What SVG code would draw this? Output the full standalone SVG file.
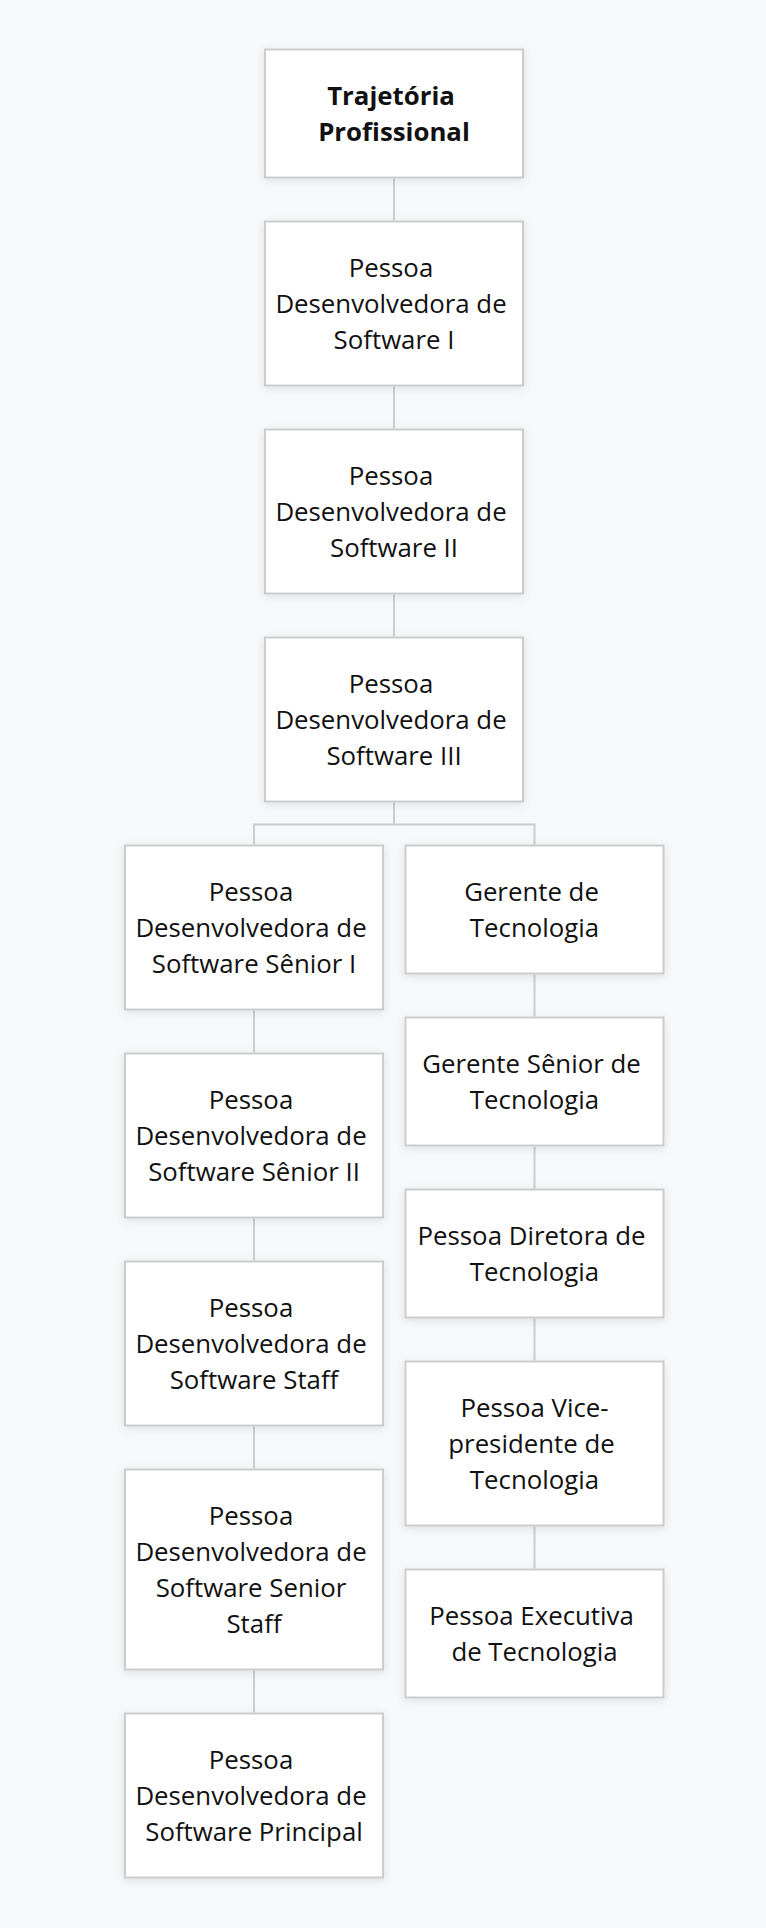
<svg xmlns="http://www.w3.org/2000/svg" width="766" height="1928" viewBox="0 0 766 1928">
<style>
.bg{fill:#f7f8fa}
.box{fill:#ffffff;stroke:#cccccc;stroke-width:2;filter:url(#sh)}
.t{font-family:"Open Sans","Noto Sans","Liberation Sans",sans-serif;font-size:25.8px;fill:#111111;text-anchor:middle}
.b{font-weight:700}
.c{fill:none;stroke:#cccccc;stroke-width:2}
</style>
<defs>
<filter id="sh" x="-10%" y="-10%" width="120%" height="130%">
<feDropShadow dx="0" dy="2" stdDeviation="4" flood-color="#000000" flood-opacity="0.1"/>
</filter>
</defs>
<rect class="bg" x="0" y="0" width="766" height="1928"/>
<g id="connectors">
<path class="c" d="M394 178.5V220.5M394 386.5V428.5M394 594.5V636.5M394 802.5V824.5M254 824.5H534.5M254 823.5V844.5M534.5 823.5V844.5"/>
<path class="c" d="M254 1010.5V1052.5M254 1218.5V1260.5M254 1426.5V1468.5M254 1670.5V1712.5"/>
<path class="c" d="M534.5 974.5V1016.5M534.5 1146.5V1188.5M534.5 1318.5V1360.5M534.5 1526.5V1568.5"/>
</g>
<g id="n-root">
<rect class="box" x="265" y="49.5" width="258" height="128"/>
<text class="t b" x="391" y="104.5">Trajetória</text>
<text class="t b" x="394" y="140.5">Profissional</text>
</g>
<g id="n-dev1">
<rect class="box" x="265" y="221.5" width="258" height="164"/>
<text class="t" x="391" y="276.5">Pessoa</text>
<text class="t" x="391" y="312.5">Desenvolvedora de</text>
<text class="t" x="394" y="348.5">Software I</text>
</g>
<g id="n-dev2">
<rect class="box" x="265" y="429.5" width="258" height="164"/>
<text class="t" x="391" y="484.5">Pessoa</text>
<text class="t" x="391" y="520.5">Desenvolvedora de</text>
<text class="t" x="394" y="556.5">Software II</text>
</g>
<g id="n-dev3">
<rect class="box" x="265" y="637.5" width="258" height="164"/>
<text class="t" x="391" y="692.5">Pessoa</text>
<text class="t" x="391" y="728.5">Desenvolvedora de</text>
<text class="t" x="394" y="764.5">Software III</text>
</g>
<g id="n-sr1">
<rect class="box" x="125" y="845.5" width="258" height="164"/>
<text class="t" x="251" y="900.5">Pessoa</text>
<text class="t" x="251" y="936.5">Desenvolvedora de</text>
<text class="t" x="254" y="972.5">Software Sênior I</text>
</g>
<g id="n-sr2">
<rect class="box" x="125" y="1053.5" width="258" height="164"/>
<text class="t" x="251" y="1108.5">Pessoa</text>
<text class="t" x="251" y="1144.5">Desenvolvedora de</text>
<text class="t" x="254" y="1180.5">Software Sênior II</text>
</g>
<g id="n-staff">
<rect class="box" x="125" y="1261.5" width="258" height="164"/>
<text class="t" x="251" y="1316.5">Pessoa</text>
<text class="t" x="251" y="1352.5">Desenvolvedora de</text>
<text class="t" x="254" y="1388.5">Software Staff</text>
</g>
<g id="n-srstaff">
<rect class="box" x="125" y="1469.5" width="258" height="200"/>
<text class="t" x="251" y="1524.5">Pessoa</text>
<text class="t" x="251" y="1560.5">Desenvolvedora de</text>
<text class="t" x="251" y="1596.5">Software Senior</text>
<text class="t" x="254" y="1632.5">Staff</text>
</g>
<g id="n-principal">
<rect class="box" x="125" y="1713.5" width="258" height="164"/>
<text class="t" x="251" y="1768.5">Pessoa</text>
<text class="t" x="251" y="1804.5">Desenvolvedora de</text>
<text class="t" x="254" y="1840.5">Software Principal</text>
</g>
<g id="n-ger">
<rect class="box" x="405.5" y="845.5" width="258" height="128"/>
<text class="t" x="531.5" y="900.5">Gerente de</text>
<text class="t" x="534.5" y="936.5">Tecnologia</text>
</g>
<g id="n-gersr">
<rect class="box" x="405.5" y="1017.5" width="258" height="128"/>
<text class="t" x="531.5" y="1072.5">Gerente Sênior de</text>
<text class="t" x="534.5" y="1108.5">Tecnologia</text>
</g>
<g id="n-dir">
<rect class="box" x="405.5" y="1189.5" width="258" height="128"/>
<text class="t" x="531.5" y="1244.5">Pessoa Diretora de</text>
<text class="t" x="534.5" y="1280.5">Tecnologia</text>
</g>
<g id="n-vp">
<rect class="box" x="405.5" y="1361.5" width="258" height="164"/>
<text class="t" x="534.5" y="1416.5">Pessoa Vice-</text>
<text class="t" x="531.5" y="1452.5">presidente de</text>
<text class="t" x="534.5" y="1488.5">Tecnologia</text>
</g>
<g id="n-exec">
<rect class="box" x="405.5" y="1569.5" width="258" height="128"/>
<text class="t" x="531.5" y="1624.5">Pessoa Executiva</text>
<text class="t" x="534.5" y="1660.5">de Tecnologia</text>
</g>
</svg>
